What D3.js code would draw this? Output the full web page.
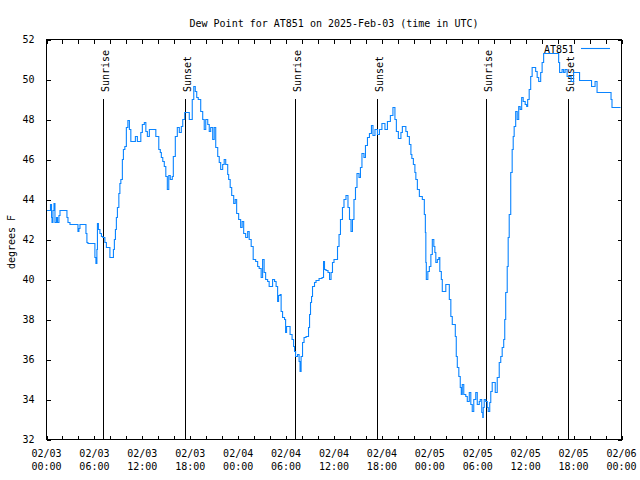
<!DOCTYPE html>
<html><head><meta charset="utf-8">
<script src="https://cdn.jsdelivr.net/npm/d3@7"></script>
<style>
html,body{margin:0;padding:0;background:#fff;}
svg text{font-family:"DejaVu Sans Mono",monospace;font-size:10px;fill:#000;}
</style></head>
<body><svg id="c" width="640" height="480"></svg>
<script>
// ---- data (hours since 2025-02-03 00:00 UTC, dew point °F) ----
const hours = [0.0,0.5,0.63,0.69,0.81,0.94,1.06,1.25,1.38,1.56,1.69,2.31,2.56,2.69,2.94,3.81,3.94,4.06,4.19,4.81,4.94,5.06,5.19,5.94,6.06,6.19,6.31,6.38,6.5,6.69,6.88,7.06,7.31,7.5,7.94,8.38,8.5,8.63,8.75,8.88,9.06,9.19,9.31,9.5,9.63,9.81,10.0,10.19,10.38,10.56,11.13,11.38,11.81,12.0,12.25,12.44,12.63,12.88,13.69,14.06,14.25,14.38,14.56,14.75,14.94,15.13,15.31,15.5,15.75,15.88,16.13,16.38,16.63,16.88,17.06,17.31,17.88,18.25,18.44,18.63,18.81,19.0,19.31,19.56,19.75,19.94,20.19,20.38,20.56,20.81,21.0,21.19,21.44,21.63,21.81,22.06,22.25,22.44,22.69,22.81,23.0,23.19,23.44,23.63,23.81,24.06,24.31,24.5,24.69,24.94,25.19,25.38,25.63,25.88,26.19,26.44,26.63,26.88,27.06,27.25,27.44,27.69,27.88,28.31,28.56,28.75,28.94,29.06,29.25,29.38,29.56,29.81,29.94,30.06,30.5,30.75,30.94,31.06,31.19,31.44,31.63,31.75,31.88,32.06,32.25,32.5,32.81,32.94,33.06,33.19,33.31,33.56,33.75,34.13,34.5,34.69,34.81,35.0,35.25,35.44,35.63,35.81,36.0,36.44,36.63,36.81,37.06,37.25,37.5,37.75,37.94,38.13,38.31,38.5,38.69,38.88,39.13,39.31,39.5,39.75,39.94,40.19,40.44,40.69,40.88,41.13,41.44,41.69,42.0,42.38,42.69,43.06,43.38,43.63,43.81,44.06,44.38,44.56,45.0,45.19,45.44,45.63,45.75,45.94,46.13,46.25,46.44,46.69,47.06,47.31,47.44,47.5,47.56,47.75,47.94,48.13,48.31,48.5,48.63,48.75,48.94,49.13,49.25,49.44,49.56,50.0,50.44,50.63,50.81,51.19,51.31,51.44,51.63,51.81,51.94,52.06,52.25,52.5,52.69,52.94,53.13,53.31,53.5,53.75,53.94,54.19,54.31,54.5,54.63,54.69,54.81,55.0,55.19,55.31,55.5,55.63,55.81,56.19,56.44,56.69,56.88,57.06,57.25,57.38,57.5,57.69,57.81,57.94,58.13,58.31,58.44,58.56,58.75,58.94,59.13,59.31,59.5,59.69,59.94,60.13,60.25,60.44,60.63,60.81,61.25,61.44,61.63,61.88,62.06,62.25,64.13,64.25,64.56,64.75,64.94,65.19,65.69,66.0,66.75,68.25,68.69,68.94,70.69,70.81,71.88];
const dewF = [43.45,43.75,43.1,42.85,43.45,43.8,42.85,43.1,42.85,43.2,43.45,43.45,43.1,42.85,42.75,42.75,42.4,42.55,42.75,42.75,42.3,41.85,41.8,41.8,41.1,40.8,41.5,42.8,42.5,42.3,42.15,42.1,41.85,41.6,41.1,41.5,42.0,42.5,43.1,43.6,44.3,44.8,45.0,46.0,46.5,46.65,47.6,47.95,47.5,46.9,47.15,46.9,47.35,47.75,47.85,47.4,47.15,47.5,47.15,46.5,46.35,46.1,45.9,45.65,45.15,44.5,45.2,45.0,45.15,46.15,47.15,47.6,47.35,47.65,48.0,48.35,48.0,49.0,49.65,49.4,49.1,49.0,48.4,48.0,47.5,48.0,47.75,47.4,47.6,47.0,47.6,46.6,46.15,45.85,45.5,45.75,46.0,45.75,45.25,45.0,44.6,44.2,43.8,44.0,43.3,43.0,42.6,42.9,42.3,42.1,42.4,42.0,41.65,41.0,40.9,40.65,40.55,40.1,41.0,40.35,40.0,39.9,39.65,40.0,39.9,39.65,38.9,39.2,39.25,38.4,38.1,38.0,37.35,37.65,37.25,37.0,36.65,36.4,36.15,36.25,35.9,35.4,36.15,36.85,37.1,37.15,37.6,38.25,38.85,39.15,39.65,39.85,39.95,40.05,40.1,40.9,40.5,40.45,40.35,40.0,40.35,40.85,41.0,41.65,42.25,43.0,43.6,44.0,44.2,43.6,43.0,42.4,43.0,44.0,44.6,45.3,45.1,45.6,46.3,46.1,46.7,47.1,47.3,47.7,47.2,47.5,47.25,47.5,47.8,47.5,47.9,48.2,48.6,48.0,47.4,47.05,47.35,47.65,47.4,47.15,46.75,46.25,46.05,45.75,45.35,45.0,44.5,44.15,44.0,43.25,42.35,40.85,40.0,40.4,40.65,41.25,42.0,41.65,41.35,40.85,41.0,41.1,40.4,40.0,39.4,39.75,39.0,38.15,37.75,37.15,36.15,35.6,35.15,34.6,34.25,34.75,34.25,34.15,33.9,34.35,33.75,33.4,34.0,34.35,33.75,33.9,34.0,33.35,33.1,33.6,34.0,33.9,33.6,33.4,33.85,34.4,34.85,34.35,35.1,35.85,36.15,36.6,37.0,38.0,39.35,40.65,42.1,43.25,45.35,46.5,47.15,47.65,48.4,48.0,48.65,48.5,49.1,48.9,48.75,48.65,49.0,49.5,50.15,50.6,50.4,50.1,49.9,50.35,50.85,51.3,50.85,50.35,50.5,50.35,50.5,50.15,49.9,50.35,49.95,49.65,49.9,49.35,49.0,48.6,48.6];
const sunriseHours = [7.1, 31.1, 55.05];
const sunsetHours = [17.35, 41.4, 65.35];
const yTicks = [32,34,36,38,40,42,44,46,48,50,52];
const titleText = "Dew Point for AT851 on 2025-Feb-03 (time in UTC)";
const yLabel = "degrees F";
const seriesName = "AT851";

// ---- chart ----
const svg = d3.select("#c");
const L = 46.5, R = 621.5, T = 39.5, B = 439.5;
const t0 = Date.UTC(2025, 1, 3, 0, 0);
const toDate = h => new Date(t0 + h * 3600000);
const x = d3.scaleUtc().domain([toDate(0), toDate(72)]).range([L, R]);
const y = d3.scaleLinear().domain([32, 52]).range([B, T]);
const lineColor = "#0a84ff";

const data = hours.map((h, i) => ({t: toDate(h), v: dewF[i]}));

// title
svg.append("text").attr("x", (L + R) / 2).attr("y", 27).attr("text-anchor", "middle").text(titleText);

// y axis label
svg.append("text").attr("transform", "translate(15,242) rotate(-90)").attr("text-anchor", "middle").text(yLabel);

// ticks
const xTickVals = d3.range(0, 73, 2).map(toDate);
const g = svg.append("g");
g.append("g").attr("transform", `translate(0,${B})`)
  .call(d3.axisBottom(x).tickValues(xTickVals).tickSizeInner(-4).tickSizeOuter(0).tickFormat(""))
  .call(s => s.select(".domain").remove());
g.append("g").attr("transform", `translate(0,${T})`)
  .call(d3.axisTop(x).tickValues(xTickVals).tickSizeInner(-4).tickSizeOuter(0).tickFormat(""))
  .call(s => s.select(".domain").remove());
g.append("g").attr("transform", `translate(${L},0)`)
  .call(d3.axisLeft(y).tickValues(yTicks).tickSizeInner(-4).tickSizeOuter(0).tickPadding(12).tickFormat(d3.format("d")))
  .call(s => s.select(".domain").remove());
g.append("g").attr("transform", `translate(${R},0)`)
  .call(d3.axisRight(y).tickValues(yTicks).tickSizeInner(-4).tickSizeOuter(0).tickFormat(""))
  .call(s => s.select(".domain").remove());
svg.selectAll(".tick line").attr("stroke", "#000").attr("shape-rendering", "crispEdges");
svg.selectAll(".tick text").attr("font-family", "DejaVu Sans Mono").attr("font-size", 10);

// x tick labels (two lines)
const fmtDate = d3.utcFormat("%m/%d"), fmtTime = d3.utcFormat("%H:%M");
const labVals = d3.range(0, 73, 6).map(toDate);
const xl = svg.append("g").selectAll("text").data(labVals).join("text")
  .attr("text-anchor", "middle");
xl.append("tspan").attr("x", d => x(d)).attr("y", 457).text(d => fmtDate(d));
xl.append("tspan").attr("x", d => x(d)).attr("y", 470).text(d => fmtTime(d));

// sunrise / sunset lines
const events = sunriseHours.map(h => ({h, label: "Sunrise"}))
  .concat(sunsetHours.map(h => ({h, label: "Sunset"})));
events.forEach(e => {
  const xp = Math.round(x(toDate(e.h))) + 0.5;
  svg.append("line").attr("x1", xp).attr("x2", xp).attr("y1", 99).attr("y2", B)
    .attr("stroke", "#000").attr("stroke-width", 1).attr("shape-rendering", "crispEdges");
  svg.append("text").attr("transform", `translate(${xp + 5},92) rotate(-90)`)
    .attr("text-anchor", "start").text(e.label);
});

// data line
svg.append("path").datum(data)
  .attr("fill", "none").attr("stroke", lineColor).attr("stroke-width", 1.1)
  .attr("d", d3.line().x(d => x(d.t)).y(d => y(d.v)).curve(d3.curveStepAfter));

// legend
svg.append("text").attr("x", 574).attr("y", 53).attr("text-anchor", "end").text(seriesName);
svg.append("line").attr("x1", 581).attr("x2", 610).attr("y1", 48.5).attr("y2", 48.5)
  .attr("stroke", lineColor).attr("stroke-width", 1.1);

// frame
svg.append("rect").attr("x", L).attr("y", T).attr("width", R - L).attr("height", B - T)
  .attr("fill", "none").attr("stroke", "#000").attr("stroke-width", 1).attr("shape-rendering", "crispEdges");
</script></body></html>
